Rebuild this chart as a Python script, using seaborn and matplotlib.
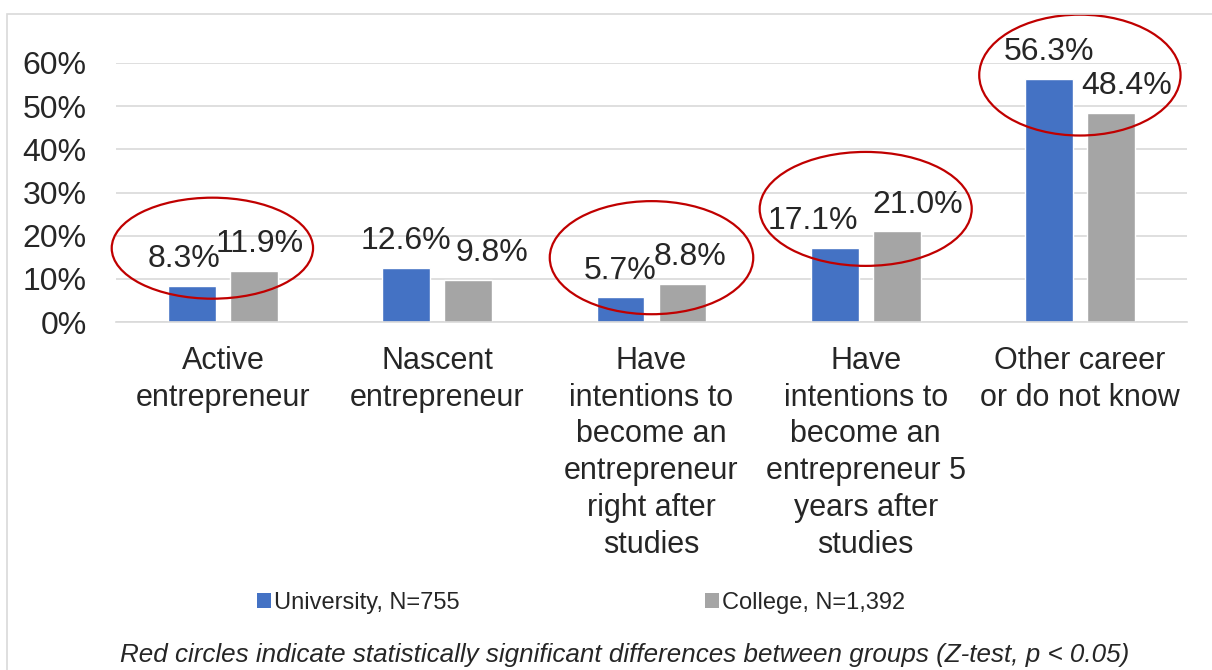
import numpy as np
import pandas as pd
import seaborn as sns
import matplotlib.pyplot as plt
from matplotlib.patches import Ellipse, Patch, Rectangle

# donnees
categories = [
    'Active\nentrepreneur',
    'Nascent\nentrepreneur',
    'Have\nintentions to\nbecome an\nentrepreneur\nright after\nstudies',
    'Have\nintentions to\nbecome an\nentrepreneur 5\nyears after\nstudies',
    'Other career\nor do not know',
]
groups = ['University, N=755', 'College, N=1,392']
university = [8.3, 12.6, 5.7, 17.1, 56.3]
college = [11.9, 9.8, 8.8, 21.0, 48.4]
yticks = [0, 10, 20, 30, 40, 50, 60]
footnote = 'Red circles indicate statistically significant differences between groups (Z-test, p < 0.05)'

# cercles rouges : (categorie, centre y, largeur, hauteur)
cercles = [
    (-0.05, 17.1, 0.94, 23.4),
    (2.0, 14.9, 0.95, 26.2),
    (3.0, 26.2, 0.99, 26.4),
    (4.0, 57.2, 0.94, 28.0),
]
# decalage horizontal des etiquettes (points)
decal_uni = [-6, 0, 0, -16, 0]
decal_col = [4, 17, 5, 15, 11]

couleurs = ['#4472C4', '#A5A5A5']

df = pd.DataFrame({
    'categorie': categories * 2,
    'groupe': [groups[0]] * 5 + [groups[1]] * 5,
    'valeur': university + college,
})

sns.set_style('white')
plt.rcParams['font.family'] = ['Liberation Sans', 'DejaVu Sans']

fig = plt.figure(figsize=(12.12, 6.7), dpi=100)
ax = fig.add_axes([116 / 1212, 1 - 322 / 670, 1071 / 1212, 259 / 670])

sns.barplot(data=df, x='categorie', y='valeur', hue='groupe', palette=couleurs,
            width=0.58, gap=0.23, errorbar=None, legend=False, saturation=1, ax=ax)

ax.set_xlim(-0.5, 4.5)
ax.set_ylim(0, 60)
ax.set_yticks(yticks)
ax.set_yticklabels([f'{t}%' for t in yticks])
ax.set_xlabel('')
ax.set_ylabel('')
ax.yaxis.grid(True, color='#D9D9D9', linewidth=1.2)
ax.set_axisbelow(True)
for s in ['top', 'right', 'left']:
    ax.spines[s].set_visible(False)
ax.spines['bottom'].set_color('#D9D9D9')
ax.spines['bottom'].set_linewidth(1.2)
ax.tick_params(axis='y', length=0, pad=21, labelsize=23)
ax.tick_params(axis='x', length=0, pad=17, labelsize=22)
for lab in ax.get_xticklabels():
    lab.set_linespacing(1.3)

# etiquettes de donnees
for cont, vals, decal in zip(ax.containers, [university, college], [decal_uni, decal_col]):
    for bar, v, dx in zip(cont, vals, decal):
        ax.annotate(f'{v:.1f}%', (bar.get_x() + bar.get_width() / 2, bar.get_height()),
                    xytext=(dx, 13.5), textcoords='offset points',
                    ha='center', va='baseline', fontsize=23, annotation_clip=False)

# ellipses de significativite
for cx, cy, w, h in cercles:
    ax.add_patch(Ellipse((cx, cy), w, h, fill=False, edgecolor='#C00000',
                         linewidth=1.6, clip_on=False, zorder=5))

# legende
poignees = [Patch(facecolor=c, edgecolor='none') for c in couleurs]
fig.legend(poignees, groups, loc='center', bbox_to_anchor=(581 / 1212, 1 - 603 / 670),
           ncol=2, frameon=False, fontsize=17, handlelength=0.6, handleheight=0.6,
           handletextpad=0.1, columnspacing=10.4)

fig.text(625 / 1212, 1 - 655 / 670, footnote, ha='center', va='center',
         fontsize=18.7, style='italic')

# cadre gris
fig.patches.append(Rectangle((7 / 1212, -0.05), 1.1, 1 - 14 / 670 + 0.05,
                             transform=fig.transFigure, fill=False,
                             edgecolor='#D9D9D9', linewidth=1.2))

fig.savefig('out.png', dpi=100)
